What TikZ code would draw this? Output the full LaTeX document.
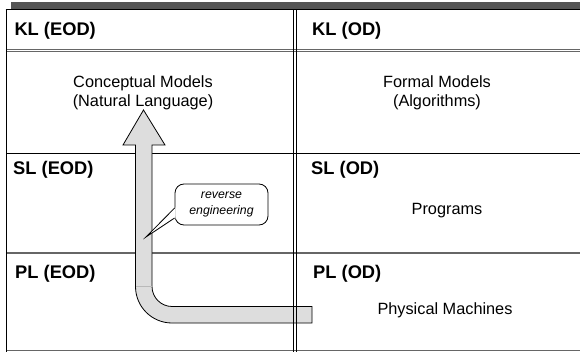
\documentclass[tikz,border=0pt]{standalone}
\usepackage{fontspec}
\setmainfont{Liberation Sans}
\usetikzlibrary{calc}
\definecolor{barc}{HTML}{555555}
\definecolor{arrowfill}{HTML}{DDDDDD}
\definecolor{rulegray}{HTML}{666666}
\begin{document}
\begin{tikzpicture}[x=1pt,y=-1pt,
  hdr/.style={anchor=base west, inner sep=0pt, font=\fontsize{18.3}{22}\selectfont\bfseries},
  body/.style={align=center, inner sep=0pt, font=\fontsize{16.3}{19}\selectfont},
  rule/.style={line width=1.1pt},
  fatarrow/.style={fill=arrowfill, draw=black, line width=0.8pt, line join=miter},
  bubble/.style={draw, fill=white, line width=0.8pt, rounded corners=9pt, minimum width=93pt, minimum height=41pt, inner sep=0pt, align=center, font=\fontsize{12.3}{16}\selectfont\itshape}]
\useasboundingbox (0,0) rectangle (580,352);
\fill[white] (0,0) rectangle (580,352);
% top shadow bar and top border
\fill[barc] (11,2.5) rectangle (580,9);
\draw[line width=1.2pt] (5.7,9.8) -- (580,9.8);
% horizontal rules
\draw[line width=0.9pt, rulegray] (6,49.3) -- (580,49.3);
\draw[line width=0.9pt, rulegray] (6,51.9) -- (580,51.9);
\draw[rule] (6,153.3) -- (580,153.3);
\draw[rule, rulegray] (6,253) -- (580,253);
\draw[rule, rulegray] (6,350.3) -- (580,350.3);
% left border
\draw[line width=1.3pt] (6.3,9.2) -- (6.3,352);
% fat L-shaped arrow
\draw[fatarrow] (143.5,110) -- (165,145) -- (152,145) -- (152,286.5)
  .. controls (152,297.5) and (161,306.5) .. (172,306.5)
  -- (312,306.5) -- (312,323) -- (172,323)
  .. controls (151.8,323) and (135.5,306.7) .. (135.5,286.5)
  -- (135.5,145) -- (123,145) -- cycle;
\draw[gray!55, line width=0.5pt] (135.9,286.5) -- (151.6,286.5);
% vertical double rule
\draw[line width=0.8pt] (293.3,9.8) -- (293.3,352);
\draw[line width=0.8pt] (296,9.8) -- (296,352);
% headers
\node[hdr] (kle) at (14.3,35.5) {KL (EOD)};
\node[hdr] (klo) at (312,35.5) {KL (OD)};
\node[hdr] (sle) at (13,175) {SL (EOD)};
\node[hdr] (slo) at (311,175) {SL (OD)};
\node[hdr] (ple) at (15,278) {PL (EOD)};
\node[hdr] (plo) at (313,278) {PL (OD)};
% contents
\node[body] (cm) at (143,93) {Conceptual Models\\(Natural Language)};
\node[body] (fm) at (437,93) {Formal Models\\(Algorithms)};
\node[body, anchor=base] (pr) at (447,215) {Programs};
\node[body, anchor=base] (pm) at (445,314) {Physical Machines};
% callout
\node[bubble] (cb) at (221.5,204.5) {reverse\\engineering};
\coordinate (ptip) at (146,237);
\fill[white] ($(cb.west)+(0.9,3)$) -- (ptip) -- ($(cb.west)+(0.9,14)$) -- cycle;
\draw[line width=0.8pt, line join=miter] ($(cb.west)+(0,3.5)$) -- (ptip) -- ($(cb.west)+(0,13.5)$);
\end{tikzpicture}
\end{document}
